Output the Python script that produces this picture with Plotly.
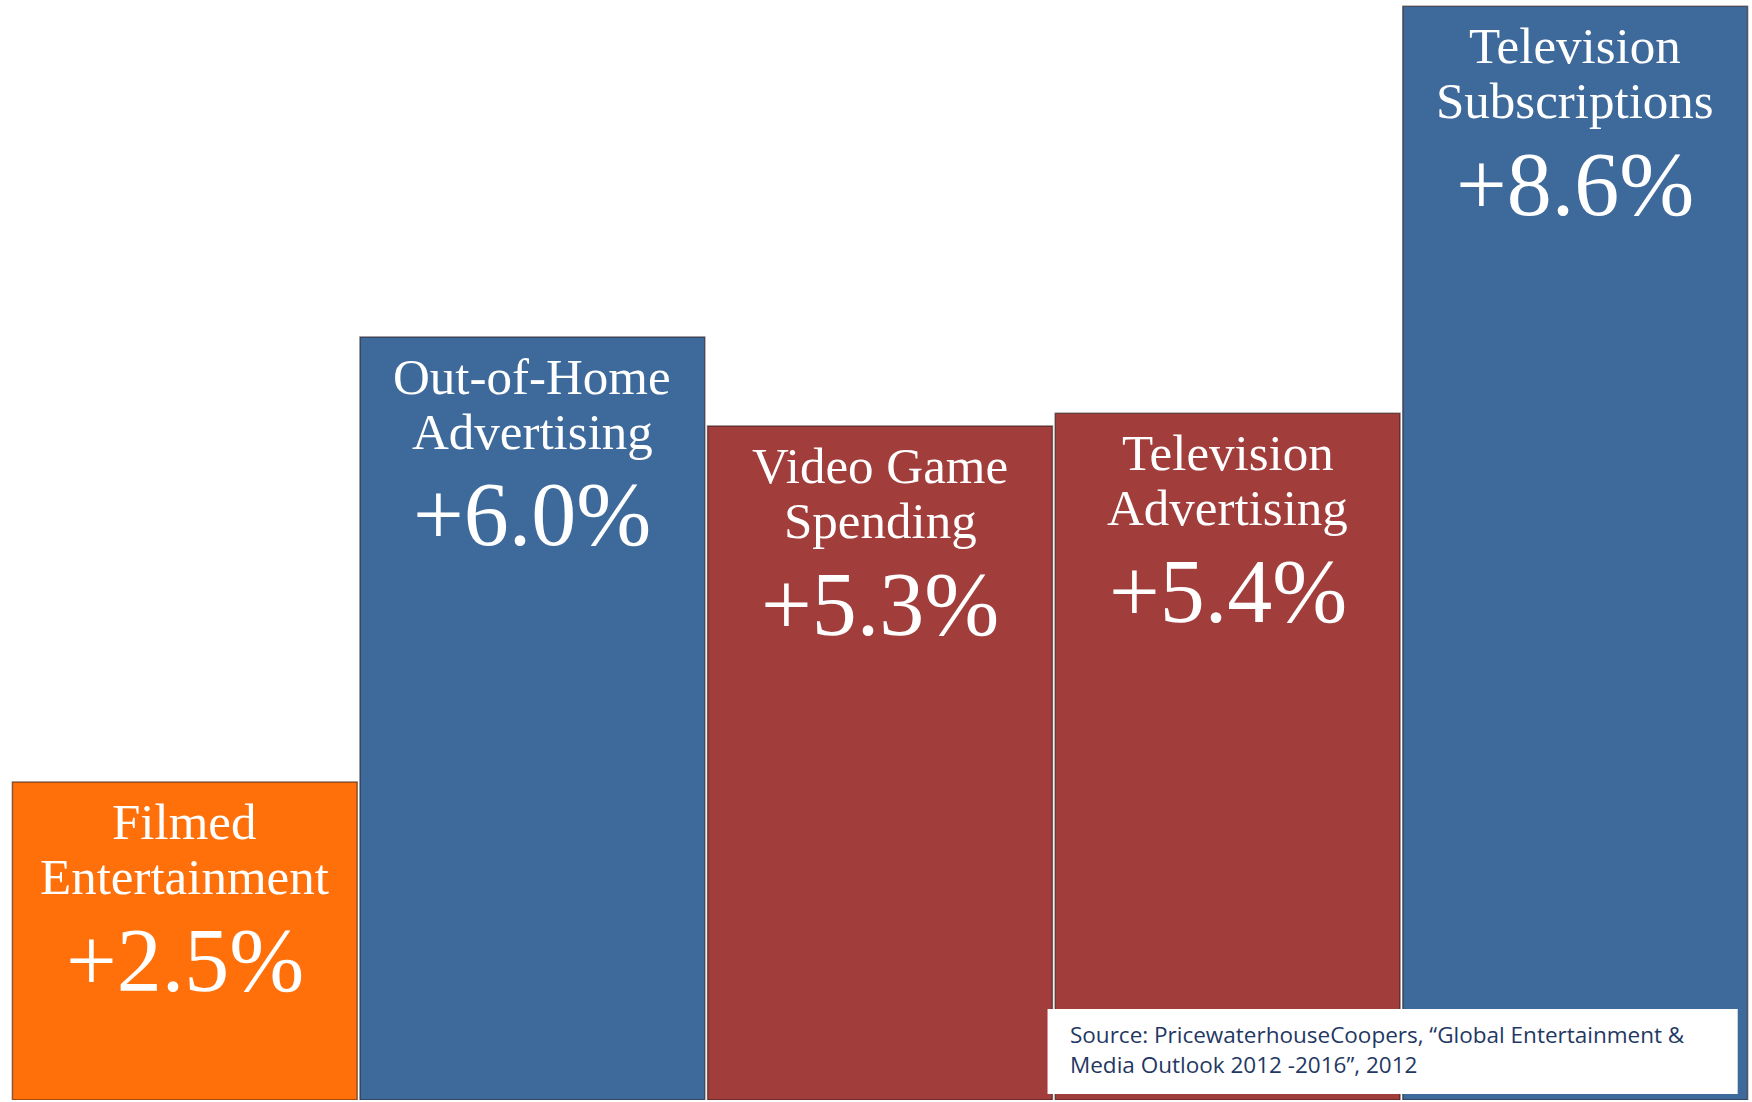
import plotly.graph_objects as go

categories = ["Filmed Entertainment", "Out-of-Home Advertising", "Video Game Spending",
              "Television Advertising", "Television Subscriptions"]
label_line1 = ["Filmed", "Out-of-Home", "Video Game", "Television", "Television"]
label_line2 = ["Entertainment", "Advertising", "Spending", "Advertising", "Subscriptions"]
growth = [2.5, 6.0, 5.3, 5.4, 8.6]
bar_colors = ["#FF700A", "#3E6A9B", "#A13D3B", "#A13D3B", "#3E6A9B"]
source_lines = ["Source: PricewaterhouseCoopers, \u201cGlobal Entertainment &",
                "Media Outlook 2012 -2016\u201d, 2012"]

fig = go.Figure()
fig.add_trace(go.Bar(
    x=categories, y=growth,
    marker=dict(color=bar_colors, line=dict(color="rgba(40,20,20,0.55)", width=1.5)),
    hoverinfo="skip", showlegend=False,
))

serif = "Liberation Serif, Georgia, serif"
annotations = []
for cat, l1, l2, v in zip(categories, label_line1, label_line2, growth):
    annotations.append(dict(x=cat, y=v, xref="x", yref="y", text=l1, showarrow=False,
                            yanchor="middle", yshift=-40,
                            font=dict(family=serif, size=51, color="white")))
    annotations.append(dict(x=cat, y=v, xref="x", yref="y", text=l2, showarrow=False,
                            yanchor="middle", yshift=-95,
                            font=dict(family=serif, size=51, color="white")))
    annotations.append(dict(x=cat, y=v, xref="x", yref="y", text=f"+{v:.1f}%", showarrow=False,
                            yanchor="middle", yshift=-178,
                            font=dict(family=serif, size=90, color="white")))

src_font = dict(family="Open Sans, Roboto, sans-serif", size=22.5, color="#1F3864")
annotations.append(dict(x=0.6080, y=0.0600, xref="paper", yref="paper", xanchor="left", yanchor="middle",
                        text=source_lines[0], showarrow=False, align="left", font=src_font))
annotations.append(dict(x=0.6080, y=0.0320, xref="paper", yref="paper", xanchor="left", yanchor="middle",
                        text=source_lines[1], showarrow=False, align="left", font=src_font))

fig.add_shape(type="rect", xref="paper", yref="paper", x0=0.5964, x1=0.9935, y0=0.0055, y1=0.0827,
              fillcolor="white", line=dict(width=0), layer="above")

fig.update_layout(
    width=1752, height=1102,
    margin=dict(l=11, r=3, t=0, b=2),
    paper_bgcolor="white", plot_bgcolor="white",
    bargap=0.008,
    xaxis=dict(visible=False),
    yaxis=dict(visible=False, range=[0, 8.65]),
    annotations=annotations,
)

fig.write_html("out.html", config={"displayModeBar": False},
               post_script="document.body.style.margin='0';document.body.style.overflow='hidden';")
